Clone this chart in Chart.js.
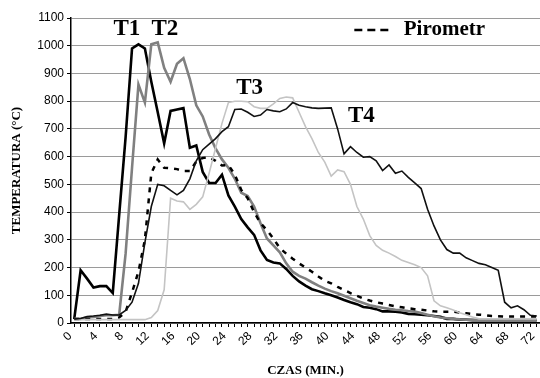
<!DOCTYPE html>
<html>
<head>
<meta charset="utf-8">
<script src="https://cdn.jsdelivr.net/npm/chart.js@4"></script>
<style>
    html, body { margin: 0; padding: 0; background: #fff; }
    #wrap { width: 540px; height: 378px; }
</style>
</head>
<body>
<div id="wrap"><canvas id="chart" width="540" height="378"></canvas></div>
<script>
(function () {
    'use strict';

    // Time in minutes (category axis).
    var MINUTES = [
        0, 1, 2, 3, 4, 5, 6, 7, 8, 9, 10, 11, 12, 13, 14, 15, 16, 17, 18, 19,
        20, 21, 22, 23, 24, 25, 26, 27, 28, 29, 30, 31, 32, 33, 34, 35, 36, 37, 38, 39,
        40, 41, 42, 43, 44, 45, 46, 47, 48, 49, 50, 51, 52, 53, 54, 55, 56, 57, 58, 59,
        60, 61, 62, 63, 64, 65, 66, 67, 68, 69, 70, 71, 72
    ];

    // Temperatures (°C), one value per minute.
    var T1 = [
        14, 190, 160, 128, 133, 133, 108, 390, 670, 990,
        1005, 990, 870, 760, 648, 765, 770, 775, 632, 640,
        545, 505, 505, 535, 460, 420, 375, 345, 318, 262,
        227, 218, 215, 195, 170, 150, 135, 122, 115, 107,
        100, 92, 83, 75, 68, 58, 55, 50, 42, 42,
        41, 38, 33, 32, 30, 28, 25, 22, 15, 15,
        12, 12, 10, 10, 10, 10, 10, 10, 10, 10,
        10, 10, 10
    ];
    var T2 = [
        15, 15, 20, 22, 25, 28, 28, 30, 250, 560,
        860, 795, 1005, 1012, 920, 870, 935, 955, 880, 785,
        745, 680, 630, 590, 560, 520, 470, 458, 420, 360,
        305, 280, 255, 215, 185, 170, 160, 147, 135, 124,
        115, 107, 98, 89, 80, 72, 64, 59, 55, 51,
        48, 46, 43, 41, 36, 30, 24, 20, 17, 15,
        13, 12, 12, 11, 11, 10, 10, 10, 10, 10,
        10, 10, 10
    ];
    var T3 = [
        12, 12, 12, 12, 12, 12, 12, 12, 12, 12,
        12, 12, 20, 45, 120, 450, 440, 437, 410, 428,
        455, 540, 630, 720, 795, 800, 800, 798, 780, 774,
        774, 790, 810, 815, 812, 760, 708, 665, 615, 580,
        530, 552, 546, 500, 420, 375, 315, 280, 262, 252,
        240, 226, 218, 210, 200, 170, 80, 62, 55, 47,
        37, 30, 22, 15, 15, 15, 15, 15, 15, 15,
        15, 15, 15
    ];
    var T4 = [
        14, 16, 23, 25, 28, 32, 29, 29, 45, 75,
        143, 290, 420, 500, 495, 478, 462, 478, 520, 585,
        625, 645, 665, 690, 708, 770, 772, 760, 745, 750,
        770, 765, 762, 772, 795, 785, 780, 776, 774, 775,
        776, 700, 610, 636, 615, 598, 600, 585, 550, 570,
        540, 548, 525, 505, 485, 410, 350, 300, 265, 252,
        252, 235, 225, 215, 210, 200, 190, 75, 55, 62,
        48, 28, 25
    ];
    var PIROMETR = [
        14, 14, 14, 14, 14, 14, 14, 20, 40, 110,
        185, 300, 540, 590, 560, 558, 555, 548, 548, 582,
        595, 598, 585, 568, 570, 535, 480, 450, 400, 360,
        335, 305, 270, 250, 232, 215, 200, 185, 168, 152,
        143, 130, 119, 108, 98, 88, 81, 75, 70, 65,
        60, 57, 53, 50, 48, 45, 42, 41, 41, 41,
        38, 35, 32, 30, 28, 25, 24, 23, 23, 23,
        23, 23, 23
    ];

    // In-plot series tags and the legend entry, placed in data units.
    var TAGS = [
        { text: 'T1', min: 8.2,  temp: 1060 },
        { text: 'T2', min: 14.1, temp: 1060 },
        { text: 'T3', min: 27.3, temp: 848 },
        { text: 'T4', min: 44.7, temp: 746 }
    ];
    var LEGEND = { text: 'Pirometr', lineFrom: 43.6, lineTo: 49.0, textAt: 51.3, temp: 1060 };

    var SERIF = '"Liberation Serif", "Times New Roman", serif';
    var SANS  = '"Liberation Sans", Arial, sans-serif';

    var tagPlugin = {
        id: 'tags',
        afterDatasetsDraw: function (chart) {
            var ctx = chart.ctx;
            var xs = chart.scales.x;
            var ys = chart.scales.y;
            ctx.save();
            ctx.fillStyle = '#000';
            ctx.font = 'bold 23px ' + SERIF;
            ctx.textAlign = 'center';
            ctx.textBaseline = 'middle';
            TAGS.forEach(function (t) {
                ctx.fillText(t.text, xs.getPixelForValue(t.min), ys.getPixelForValue(t.temp));
            });

            // Legend: dashed sample + label.
            var ly = ys.getPixelForValue(LEGEND.temp);
            ctx.strokeStyle = '#000';
            ctx.lineWidth = 2.5;
            ctx.setLineDash([8, 5]);
            ctx.beginPath();
            ctx.moveTo(xs.getPixelForValue(LEGEND.lineFrom), ly + 1);
            ctx.lineTo(xs.getPixelForValue(LEGEND.lineTo), ly + 1);
            ctx.stroke();
            ctx.setLineDash([]);
            ctx.font = 'bold 21px ' + SERIF;
            ctx.textAlign = 'left';
            ctx.fillText(LEGEND.text, xs.getPixelForValue(LEGEND.textAt), ly);
            ctx.restore();
        }
    };

    function line(label, data, color, width, dash) {
        return {
            label: label,
            data: data,
            borderColor: color,
            backgroundColor: color,
            borderWidth: width,
            borderDash: dash || [],
            pointRadius: 0,
            tension: 0,
            fill: false
        };
    }

    new Chart(document.getElementById('chart').getContext('2d'), {
        type: 'line',
        data: {
            labels: MINUTES,
            datasets: [
                line('T4', T4, '#111111', 1.6),
                line('T3', T3, '#c4c4c4', 1.6),
                line('Pirometr', PIROMETR, '#000000', 2.5, [5, 6]),
                line('T2', T2, '#808080', 2.6),
                line('T1', T1, '#000000', 2.6)
            ]
        },
        options: {
            responsive: false,
            animation: false,
            devicePixelRatio: 1,
            layout: { padding: { top: 18, right: 0, left: 9, bottom: 0 } },
            plugins: {
                legend: { display: false },
                tooltip: { enabled: false }
            },
            scales: {
                x: {
                    type: 'category',
                    offset: true,
                    grid: { drawOnChartArea: false, tickLength: 4, tickColor: '#000' },
                    border: { color: '#000', width: 1.5 },
                    ticks: {
                        autoSkip: false,
                        maxRotation: 45,
                        minRotation: 45,
                        padding: 2,
                        labelOffset: -4,
                        color: '#000',
                        font: { family: SANS, size: 12 },
                        callback: function (v, i) {
                            var m = MINUTES[i];
                            return m % 4 === 0 ? String(m) : '';
                        }
                    },
                    title: {
                        display: true,
                        text: 'CZAS (MIN.)',
                        color: '#000',
                        font: { family: SERIF, size: 13, weight: 'bold' },
                        padding: { top: 4, bottom: 0 }
                    },
                    afterFit: function (scale) {
                        scale.height = 55;
                        scale.paddingRight = 0;
                        scale.paddingLeft = 0;
                    }
                },
                y: {
                    min: 0,
                    max: 1100,
                    grid: { color: '#9a9a9a', lineWidth: 1, tickLength: 4, tickColor: '#000' },
                    border: { color: '#000', width: 1.5 },
                    ticks: {
                        stepSize: 100,
                        padding: 3,
                        color: '#000',
                        font: { family: SANS, size: 12 },
                        callback: function (v) { return String(v); }
                    },
                    title: {
                        display: true,
                        text: 'TEMPERATURA (°C)',
                        color: '#000',
                        font: { family: SERIF, size: 13, weight: 'bold' },
                        padding: { top: 0, bottom: 2 }
                    },
                    afterFit: function (scale) {
                        scale.width = 62;
                        scale.paddingTop = 0;
                    }
                }
            }
        },
        plugins: [tagPlugin]
    });
}());
</script>
</body>
</html>
